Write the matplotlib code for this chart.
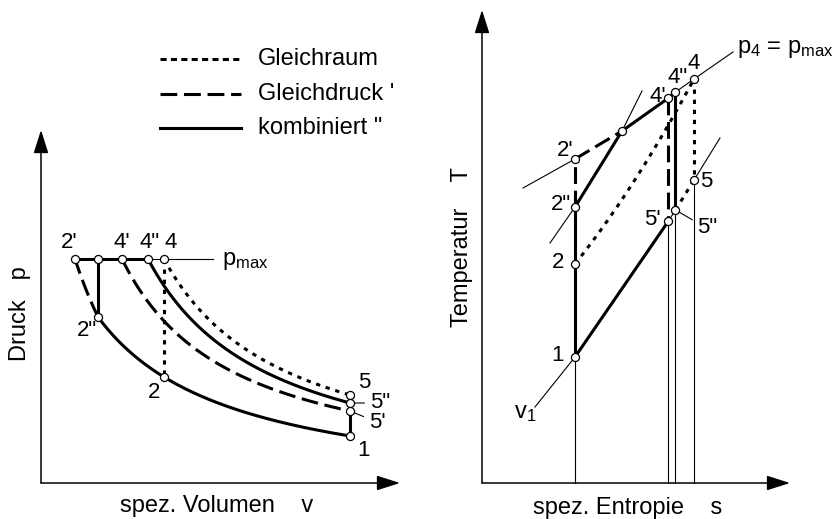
import numpy as np
import matplotlib
matplotlib.use("Agg")
import matplotlib.pyplot as plt
from matplotlib.lines import Line2D

plt.rcParams["font.family"] = ["Liberation Sans", "DejaVu Sans"]
plt.rcParams["mathtext.fontset"] = "custom"
plt.rcParams["mathtext.rm"] = "Liberation Sans"
plt.rcParams["mathtext.it"] = "Liberation Sans"

W, H, DPI = 834, 519, 100

# state names, same order for both diagrams
states = ["1", "2", '2"', "2'", '3"', "4'", '4"', "4", "5", '5"', "5'"]

# p-v diagram (spez. Volumen v, Druck p)
pv_v = [30.9, 12.3, 5.7, 3.4, 5.7, 8.1, 10.7, 12.3, 30.9, 30.9, 30.9]
pv_p = [4.7, 10.6, 16.6, 22.4, 22.4, 22.4, 22.4, 22.4, 8.8, 8.0, 7.2]
comp_mid = (4.4, 19.6)            # on 2" -> 2'
exp_v_mid = 22.6
exp_p_mid = [12.1, 11.0, 9.6]     # on 4 -> 5, 4" -> 5", 4' -> 5'
pmax_line_end = 17.2

# T-s diagram (spez. Entropie s, Temperatur T)
ts_s = [9.3, 9.3, 9.3, 9.3, 14.0, 18.65, 19.35, 21.2, 21.2, 19.35, 18.65]
ts_T = [12.6, 21.9, 27.6, 32.4, 35.2, 38.5, 39.1, 40.4, 30.3, 27.3, 26.2]
isochore_mid = (15.6, 30.8)       # on 2 -> 4
v1_ends = [(5.3, 7.6), (23.8, 34.5)]
v2_ends = [(6.8, 24.0), (16.0, 39.2)]
pmax_ends = [(4.1, 29.5), (25.1, 43.1)]

PV = {n: (v, p) for n, v, p in zip(states, pv_v, pv_p)}
TS = {n: (s, t) for n, s, t in zip(states, ts_s, ts_T)}

LW = 2.2
THIN = 0.8
SOLID = dict(color="k", lw=LW, solid_capstyle="butt", clip_on=False)
DASH = dict(color="k", lw=LW, ls=(0, (5.5, 2.2)), clip_on=False)
DOT = dict(color="k", lw=LW, ls=(0, (1.4, 1.9)), clip_on=False)
FINE = dict(color="k", lw=THIN, clip_on=False)


def hyper(a, b, c, n=200):
    # p = k0 + k1/(v - k2) through three points
    (v1, p1), (v2, p2), (v3, p3) = a, b, c
    r = (p1 - p2) / (p2 - p3)
    k2 = ((v2 - v1) * v3 - r * (v3 - v2) * v1) / ((v2 - v1) - r * (v3 - v2))
    k1 = (p1 - p2) * (v1 - k2) * (v2 - k2) / (v2 - v1)
    k0 = p1 - k1 / (v1 - k2)
    v = np.linspace(v1, v3, n)
    return v, k0 + k1 / (v - k2)


def seg(ax, pts, style):
    xs, ys = zip(*pts)
    ax.plot(xs, ys, **style)


def axis_arrows(ax, xmax, ymax):
    kw = dict(arrowstyle="-|>,head_length=1.1,head_width=0.35", color="k",
              lw=1.1, shrinkA=0, shrinkB=0, mutation_scale=13)
    ax.annotate("", xy=(xmax, 0), xytext=(0, 0), arrowprops=kw)
    ax.annotate("", xy=(0, ymax), xytext=(0, 0), arrowprops=kw)


def circles(ax, pts):
    xs, ys = zip(*pts)
    ax.plot(xs, ys, "o", ms=5.8, mfc="white", mec="k", mew=0.9,
            zorder=5, clip_on=False)


def labels(ax, pos, offsets, size=16):
    for name, (dx, dy) in offsets.items():
        ax.annotate(name, pos[name], xytext=(dx * 0.72, -dy * 0.72),
                    textcoords="offset points", ha="center", va="center",
                    fontsize=size)


def leader(ax, name, xy, dx, dy, rel=(0, 0.5)):
    ax.annotate(name, xy, xytext=(dx * 0.72, -dy * 0.72),
                textcoords="offset points", ha="left", va="center",
                fontsize=16,
                arrowprops=dict(arrowstyle="-", lw=THIN, color="k",
                                relpos=rel, shrinkA=2, shrinkB=3))


fig = plt.figure(figsize=(W / DPI, H / DPI), dpi=DPI)


def frac(x0, y0, x1, y1):
    return [x0 / W, 1 - y1 / H, (x1 - x0) / W, (y1 - y0) / H]


def ftext(x, y, s, **kw):
    fig.text(x / W, 1 - y / H, s, **kw)


# ---------------- p-v diagram ----------------
axL = fig.add_axes(frac(41, 130, 400, 483))
axL.set_xlim(0, 35.9)
axL.set_ylim(0, 35.3)
axL.axis("off")
axis_arrows(axL, 35.9, 35.3)

v, p = hyper(PV["1"], PV["2"], PV['2"'])
axL.plot(v, p, **SOLID)
v, p = hyper(PV['2"'], comp_mid, PV["2'"])
axL.plot(v, p, **DASH)

for (a, b), pm, st in zip([("4", "5"), ('4"', '5"'), ("4'", "5'")],
                          exp_p_mid, [DOT, SOLID, DASH]):
    v, p = hyper(PV[a], (exp_v_mid, pm), PV[b])
    axL.plot(v, p, **st)

seg(axL, [PV["2'"], PV['4"']], SOLID)
seg(axL, [PV['4"'], (pmax_line_end, PV["4"][1])], FINE)
seg(axL, [PV['3"'], PV['2"']], SOLID)
seg(axL, [PV["4"], PV["2"]], DOT)
seg(axL, [PV["5"], PV["5'"]], DOT)
seg(axL, [PV["5'"], PV["1"]], SOLID)
circles(axL, [PV[n] for n in states])

labels(axL, PV, {"1": (13, 14), "2": (-10, 16), '2"': (-11, 14),
                 "2'": (-6, -17), "4'": (0, -17), '4"': (2, -17),
                 "4": (7, -17), "5": (14, -13)})
leader(axL, '5"', PV['5"'], 20, 0)
leader(axL, "5'", PV["5'"], 19, 12, rel=(0, 0.7))
axL.text(pmax_line_end + 0.9, PV["4"][1] - 0.55, r"p$_{\mathrm{max}}$",
         fontsize=17, ha="left", va="baseline")

ftext(20, 314, "Druck   p", rotation=90, ha="center", va="center", fontsize=17)
ftext(217, 506, "spez. Volumen    v", ha="center", va="center", fontsize=17)

# legend
legend_rows = [("Gleichraum", dict(color="k", lw=LW, ls=(0, (2.0, 1.4)))),
               ("Gleichdruck '", dict(color="k", lw=LW, ls=(0, (5.5, 2.2)))),
               ('kombiniert "', dict(color="k", lw=LW))]
for i, (txt, st) in enumerate(legend_rows):
    y = 59 + i * 34.5
    fig.add_artist(Line2D([160 / W, 241 / W], [1 - y / H] * 2, **st))
    ftext(258, y, txt, ha="left", va="center", fontsize=17)

# ---------------- T-s diagram ----------------
axR = fig.add_axes(frac(482, 10, 790, 483))
axR.set_xlim(0, 30.8)
axR.set_ylim(0, 47.3)
axR.axis("off")
axis_arrows(axR, 30.8, 47.3)

# drop lines to the s axis
for n in ["1", "5'", '5"', "5"]:
    seg(axR, [(TS[n][0], 0), TS[n]], FINE)

# isentropes
seg(axR, [TS["1"], TS['2"']], SOLID)
seg(axR, [TS['2"'], TS["2'"]], DASH)
seg(axR, [TS["4'"], TS["5'"]], DASH)
seg(axR, [TS['4"'], TS['5"']], SOLID)
seg(axR, [TS["4"], TS["5"]], DOT)

# isochore v1
seg(axR, [v1_ends[0], TS["1"]], FINE)
seg(axR, [TS["1"], TS["5'"]], SOLID)
seg(axR, [TS["5'"], TS['5"']], FINE)
seg(axR, [TS['5"'], TS["5"]], DOT)
seg(axR, [TS["5"], v1_ends[1]], FINE)

# isochore through 2"
seg(axR, [v2_ends[0], TS['2"']], FINE)
seg(axR, [TS['2"'], TS['3"']], SOLID)
seg(axR, [TS['3"'], v2_ends[1]], FINE)

# isobar p4 = pmax
seg(axR, [pmax_ends[0], TS["2'"]], FINE)
seg(axR, [TS["2'"], TS['3"']], DASH)
seg(axR, [TS['3"'], TS["4'"], TS['4"']], SOLID)
seg(axR, [TS['4"'], TS["4"], pmax_ends[1]], FINE)

# isochore 2 -> 4
xs, ys = zip(TS["2"], isochore_mid, TS["4"])
coef = np.polyfit(xs, ys, 2)
s = np.linspace(xs[0], xs[-1], 200)
axR.plot(s, np.polyval(coef, s), **DOT)

circles(axR, [TS[n] for n in states])

labels(axR, TS, {"1": (-17, -2), "2": (-17, -2), '2"': (-14, -3),
                 "2'": (-10, -9), "4'": (-11, -2), '4"': (2, -15),
                 "4": (0, -16), "5": (12, 1), "5'": (-16, -2)})
leader(axR, '5"', TS['5"'], 22, 17, rel=(0, 0.7))
axR.text(v1_ends[0][0] - 1.0, v1_ends[0][1] - 0.6, r"v$_1$",
         fontsize=17, ha="center", va="center")
axR.text(pmax_ends[1][0] + 0.4, pmax_ends[1][1] - 0.1,
         r"p$_4$ = p$_{\mathrm{max}}$", fontsize=17, ha="left", va="baseline")

ftext(462, 247, "Temperatur    T", rotation=90, ha="center", va="center",
      fontsize=17)
ftext(628, 508, "spez. Entropie    s", ha="center", va="center", fontsize=17)

fig.savefig("out.png", dpi=DPI)
